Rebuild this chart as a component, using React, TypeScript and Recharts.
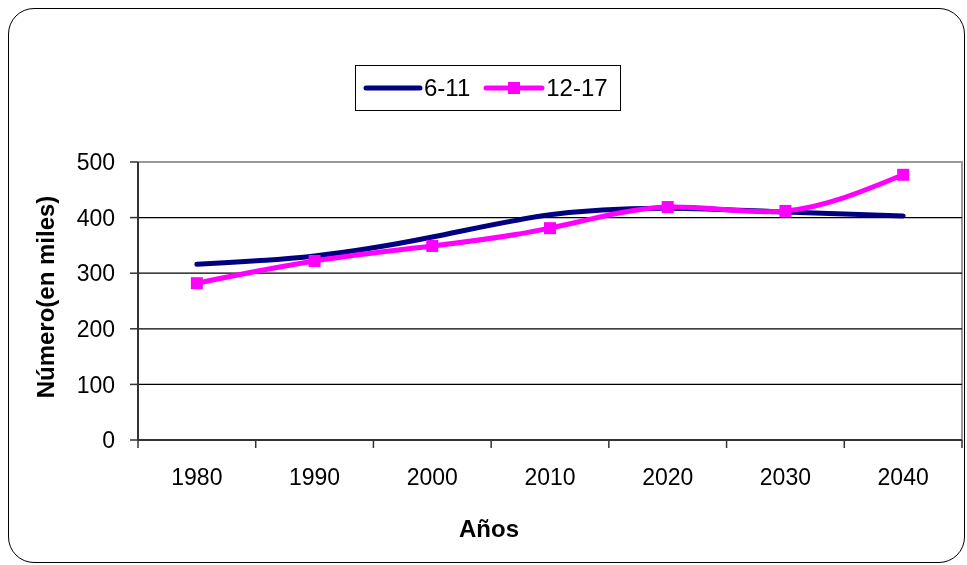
import { LineChart, Line, XAxis, YAxis, CartesianGrid, ReferenceLine } from "recharts";

const years = ["1980", "1990", "2000", "2010", "2020", "2030", "2040"];
const ages6to11 = [316, 331, 365, 405, 417, 410, 403];
const ages12to17 = [282, 322, 349, 381, 419, 412, 477];
const yTicks = [0, 100, 200, 300, 400, 500];

const data = years.map((year, i) => ({
    year,
    a: ages6to11[i],
    b: ages12to17[i],
}));

const FONT = "'Liberation Sans', Arial, sans-serif";
const NAVY = "#000080";
const PINK = "#FF00FF";
const HALF_BAND = 824 / 14;

const YearTick = (props: any) => {
    const { x, y, payload, index } = props;
    const top = y - 8;
    return (
        <g>
            <line x1={x - HALF_BAND} y1={top} x2={x - HALF_BAND} y2={top + 8} stroke="#333" strokeWidth={1.5} />
            {index === years.length - 1 && (
                <line x1={x + HALF_BAND} y1={top} x2={x + HALF_BAND} y2={top + 8} stroke="#333" strokeWidth={1.5} />
            )}
            <text x={x} y={top + 45} textAnchor="middle" fontSize={23} fontFamily={FONT} fill="#000">
                {payload.value}
            </text>
        </g>
    );
};

const SquareDot = (props: any) => {
    const { cx, cy, index } = props;
    return <rect key={`sq-${index}`} x={cx - 6} y={cy - 6} width={12} height={12} fill={PINK} />;
};

const YTitle = (props: any) => {
    const { viewBox } = props;
    const cx = viewBox.x + 37;
    const cy = viewBox.y + viewBox.height / 2 - 4;
    return (
        <text x={cx} y={cy} transform={`rotate(-90, ${cx}, ${cy})`} textAnchor="middle" dominantBaseline="central"
            fontSize={24} fontWeight="bold" fontFamily={FONT} fill="#000">
            Número(en miles)
        </text>
    );
};

const XTitle = (props: any) => {
    const { viewBox } = props;
    return (
        <text x={481} y={viewBox.y + 97} textAnchor="middle" fontSize={24} fontWeight="bold" fontFamily={FONT} fill="#000">
            Años
        </text>
    );
};

const App = () => {
    return (
        // fixed so the 8px body margin can't push the page into scrolling
        <div style={{ position: "fixed", left: 8, top: 8, width: 957, height: 555, fontFamily: FONT }}>
            <div style={{
                position: "absolute", left: 0, top: 0, right: 0, bottom: 0,
                border: "1.5px solid #000", borderRadius: 26, pointerEvents: "none"
            }} />
            {/* right edge of the plot frame */}
            <div style={{
                position: "absolute", left: 953, top: 153, width: 2, height: 280,
                background: "#999", pointerEvents: "none"
            }} />
            <div style={{
                position: "absolute", left: 347, top: 57, width: 264, height: 44,
                border: "1.5px solid #000", display: "flex", alignItems: "center",
                fontSize: 24, background: "#fff", zIndex: 2
            }}>
                <svg width={60} height={12} style={{ marginLeft: 7 }}>
                    <line x1={3} y1={6} x2={57} y2={6} stroke={NAVY} strokeWidth={5} strokeLinecap="round" />
                </svg>
                <span style={{ marginLeft: 1 }}>6-11</span>
                <svg width={62} height={14} style={{ marginLeft: 13 }}>
                    <line x1={3} y1={7} x2={59} y2={7} stroke={PINK} strokeWidth={5} strokeLinecap="round" />
                    <rect x={25} y={1} width={12} height={12} fill={PINK} />
                </svg>
                <span style={{ marginLeft: 1 }}>12-17</span>
            </div>
            <LineChart width={958} height={555} data={data} margin={{ top: 154, right: 4, left: 0, bottom: 0 }}>
                <CartesianGrid vertical={false} horizontalValues={[100, 200, 300, 400]} stroke="#000" strokeWidth={1.2} />
                <ReferenceLine y={500} stroke="#999" strokeWidth={2} />
                <XAxis
                    dataKey="year"
                    height={123}
                    padding={{ left: HALF_BAND, right: HALF_BAND }}
                    tick={<YearTick />}
                    tickLine={false}
                    tickSize={8}
                    tickMargin={0}
                    axisLine={{ stroke: "#333", strokeWidth: 2 }}
                    interval={0}
                    label={<XTitle />}
                />
                <YAxis
                    width={130}
                    domain={[0, 500]}
                    ticks={yTicks}
                    tickSize={8}
                    tickMargin={15}
                    tick={{ fontSize: 23, fill: "#000", fontFamily: FONT }}
                    tickLine={{ stroke: "#333", strokeWidth: 1.5 }}
                    axisLine={{ stroke: "#333", strokeWidth: 2 }}
                    label={<YTitle />}
                />
                <Line type="natural" dataKey="a" stroke={NAVY} strokeWidth={5} dot={false} isAnimationActive={false} strokeLinecap="round" />
                <Line type="natural" dataKey="b" stroke={PINK} strokeWidth={5} dot={<SquareDot />} activeDot={false} isAnimationActive={false} />
            </LineChart>
        </div>
    );
};

export default App;
